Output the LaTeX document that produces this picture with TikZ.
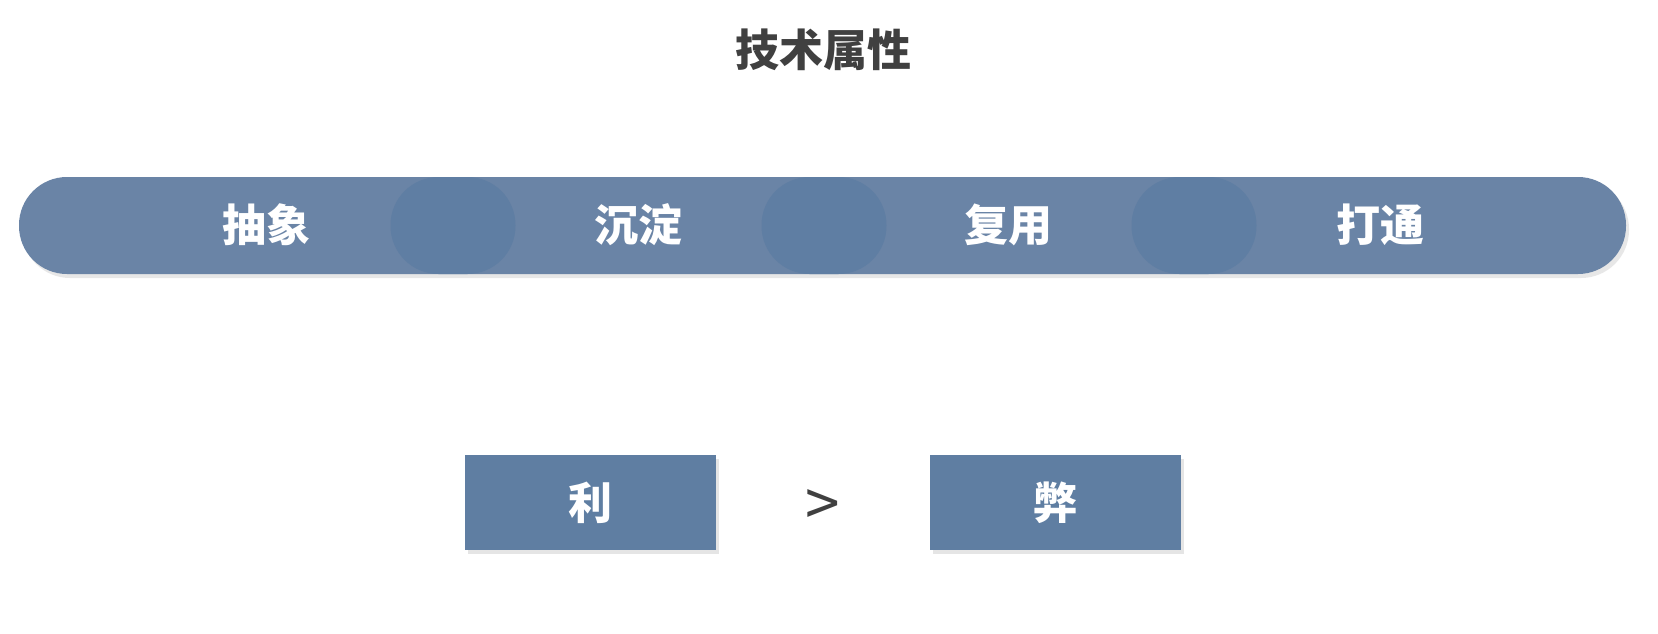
\documentclass[tikz,border=0pt]{standalone}
\usepackage{fontspec}
\setmainfont{Noto Sans CJK SC}
\usetikzlibrary{shadows,positioning}

\definecolor{barblue}{HTML}{6A84A6}
\definecolor{dotblue}{HTML}{5F7EA3}
\definecolor{boxblue}{HTML}{5F7EA2}
\definecolor{titlegray}{HTML}{404040}

\tikzset{
    bar/.style={fill=barblue,rounded corners=48pt,minimum width=1607pt,minimum height=97pt,
        drop shadow={shadow xshift=3pt,shadow yshift=-4pt,fill=black!18}},
    dot/.style={fill=dotblue,rounded corners=48pt,minimum width=125pt,minimum height=97pt},
    word/.style={text=white,font=\bfseries\fontsize{44}{48}\selectfont},
    side/.style={fill=boxblue,minimum width=251pt,minimum height=95pt,
        drop shadow={shadow xshift=3pt,shadow yshift=-4pt,fill=black!20}},
}

\begin{document}
\begin{tikzpicture}[x=1pt,y=-1pt]
    \useasboundingbox[fill=white] (0,0) rectangle (1658,634);
    % title
    \node[text=titlegray,font=\bfseries\fontsize{44}{48}\selectfont] (title) at (823,50) {技术属性};
    % the long bar
    \node[bar] (bar) at (822.5,225.5) {};
    \node[dot] (dotA) at (453,225.5) {};
    \node[dot] (dotB) at (824,225.5) {};
    \node[dot] (dotC) at (1194,225.5) {};
    \node[word] (abstract) at (266,225) {抽象};
    \node[word] (settle) at (638,225) {沉淀};
    \node[word] (reuse) at (1008,225) {复用};
    \node[word] (connect) at (1380,225) {打通};
    % pros and cons
    \node[side] (pro) at (590.5,502.5) {};
    \node[word] at (pro) {利};
    \node[side] (con) at (1055.5,502.5) {};
    \node[word] at (con) {弊};
    \node[text=titlegray,font=\fontsize{62}{66}\selectfont] (gt) at (823,508) {>};
\end{tikzpicture}
\end{document}
